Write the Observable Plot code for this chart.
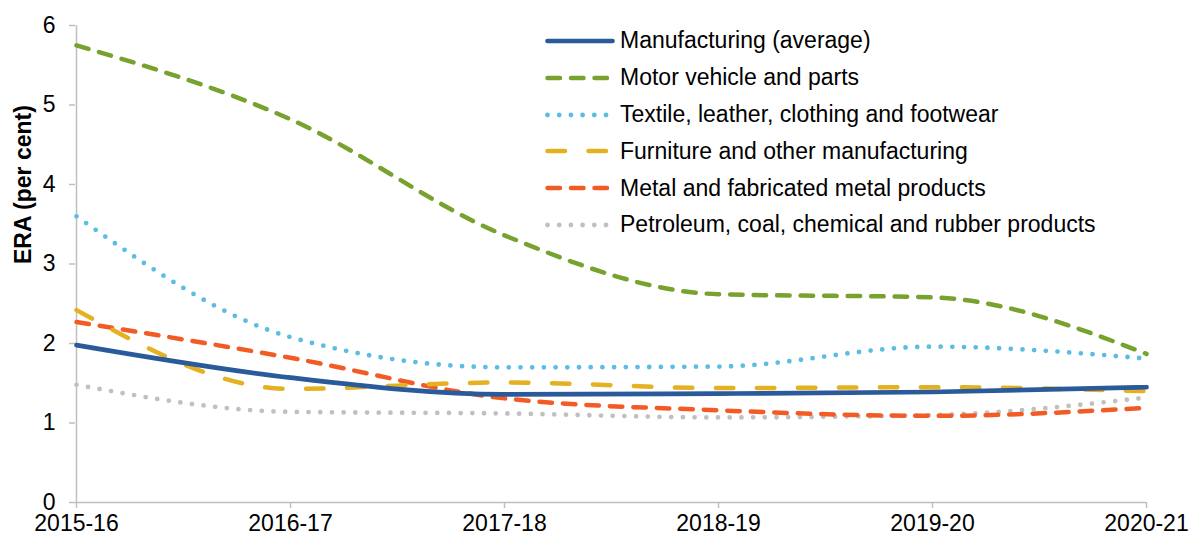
<!DOCTYPE html>
<html><head><meta charset="utf-8">
<script src="https://cdn.jsdelivr.net/npm/d3@7"></script>
<script src="https://cdn.jsdelivr.net/npm/@observablehq/plot@0.6"></script>
<style>
body{margin:0;background:#fff;}
#chart{position:relative;width:1189px;height:538px;font-family:"Liberation Sans",Arial,sans-serif;color:#000;overflow:hidden;}
#legend{position:absolute;left:540px;top:22.6px;font-size:23px;}
#legend .row{display:flex;align-items:center;height:36.8px;white-space:nowrap;}
#legend svg{display:block;}
</style>
</head><body><div id="chart"><div id="legend"></div></div>
<script>
const years = ["2015-16","2016-17","2017-18","2018-19","2019-20","2020-21"];
const seriesNames = [
  "Manufacturing (average)",
  "Motor vehicle and parts",
  "Textile, leather, clothing and footwear",
  "Furniture and other manufacturing",
  "Metal and fabricated metal products",
  "Petroleum, coal, chemical and rubber products"
];
const manufacturing = [1.98, 1.57, 1.36, 1.37, 1.39, 1.45];
const motorVehicle  = [5.75, 4.82, 3.36, 2.62, 2.58, 1.87];
const textile       = [3.60, 2.08, 1.70, 1.71, 1.96, 1.81];
const furniture     = [2.42, 1.43, 1.51, 1.44, 1.45, 1.40];
const metal         = [2.27, 1.82, 1.31, 1.16, 1.09, 1.19];
const petroleum     = [1.48, 1.14, 1.12, 1.07, 1.10, 1.32];
const yTicks = [0, 1, 2, 3, 4, 5, 6];
const yTitle = "ERA (per cent)";

const seriesValues = [manufacturing, motorVehicle, textile, furniture, metal, petroleum];
const styles = [
  {color: "#2a5a9a", dash: null,        width: 4.7},
  {color: "#77a22e", dash: "12.5,11",   width: 4.5},
  {color: "#5bbde1", dash: "0,11.7",    width: 4.8},
  {color: "#e3b121", dash: "17.5,23.5", width: 4.5},
  {color: "#f35b25", dash: "12.5,11",   width: 4.5},
  {color: "#c0c0c0", dash: "0,11.7",    width: 4.8}
];

const data = [];
seriesNames.forEach((name, s) => years.forEach((yr, i) => data.push({series: name, year: yr, value: seriesValues[s][i]})));

const drawOrder = [5, 4, 3, 2, 1, 0];
const lineMarks = drawOrder.map(s => Plot.line(data.filter(d => d.series === seriesNames[s]), {
  x: "year", y: "value", stroke: styles[s].color, strokeWidth: styles[s].width,
  strokeDasharray: styles[s].dash, strokeLinecap: "round", curve: "monotone-x"
}));

const axisColor = "#bfbfbf";
const chart = Plot.plot({
  width: 1189, height: 538,
  marginLeft: 75, marginRight: 43, marginTop: 25, marginBottom: 36,
  style: {fontFamily: '"Liberation Sans", Arial, sans-serif', fontSize: "23px", color: "#000", background: "#fff", overflow: "visible"},
  x: {type: "point", domain: years, padding: 0},
  y: {domain: [0, 6]},
  marks: [
    Plot.ruleY([0], {stroke: axisColor, strokeWidth: 1.5}),
    Plot.ruleX([years[0]], {y1: 0, y2: 6, stroke: axisColor, strokeWidth: 1.5}),
    Plot.axisY({ticks: yTicks, tickFormat: "d", tickSize: 6, tickPadding: 14, stroke: axisColor, strokeWidth: 1.5, label: null, fontSize: 23, fill: "#000"}),
    Plot.axisX({tickSize: 6, tickPadding: 6, stroke: axisColor, strokeWidth: 1.5, label: null, fontSize: 23, fill: "#000"}),
    Plot.text([yTitle], {frameAnchor: "left", rotate: -90, dx: -52, fontWeight: "bold", fontSize: 23, fill: "#000"}),
    ...lineMarks
  ]
});
document.getElementById("chart").prepend(chart);

const legend = document.getElementById("legend");
seriesNames.forEach((name, s) => {
  const row = document.createElement("div");
  row.className = "row";
  const st = styles[s];
  row.innerHTML = `<svg width="80" height="12"><line x1="7.5" x2="72.5" y1="6" y2="6" stroke="${st.color}" stroke-width="${st.width}" stroke-linecap="round" ${st.dash ? `stroke-dasharray="${st.dash}"` : ""}/></svg><span>${name}</span>`;
  legend.appendChild(row);
});
</script>
</body></html>
